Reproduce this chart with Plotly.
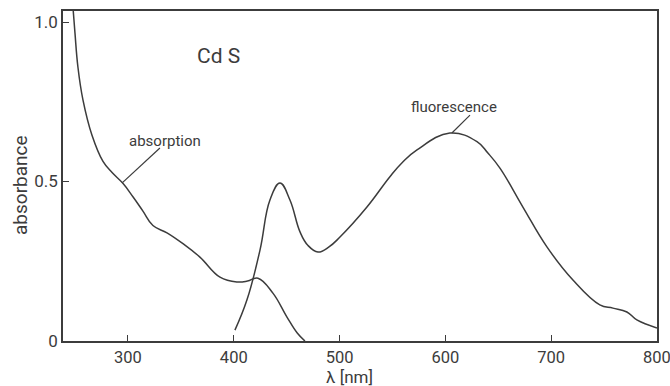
import plotly.graph_objects as go

# CdS spectra: absorption and fluorescence versus wavelength
abs_wavelength = [246, 248.3, 249.9, 252.7, 257.5, 266.0, 276.4, 285.0, 295.0, 304.7,
                  314.0, 323.6, 336.9, 352.0, 368.0, 387.0, 403.0, 413.0, 422.9,
                  437.0, 450.3, 460.0, 467.3]
abs_values = [1.12, 1.034, 0.966, 0.859, 0.755, 0.645, 0.563, 0.528, 0.495, 0.452,
              0.408, 0.362, 0.339, 0.305, 0.263, 0.200, 0.185, 0.188, 0.197,
              0.150, 0.075, 0.025, 0.0]

fl_wavelength = [401.1, 412.5, 424.8, 434.2, 443.7, 453.1, 462.6, 470.0, 479.6, 490.0,
                 500.4, 525.9, 547.6, 560.0, 573.2, 604.3, 629.9, 640.0, 651.6, 673.3,
                 696.0, 720.6, 746.0, 758.4, 771.6, 781.0, 800.0]
fl_values = [0.034, 0.129, 0.285, 0.442, 0.495, 0.442, 0.342, 0.300, 0.279, 0.295,
             0.326, 0.420, 0.515, 0.562, 0.599, 0.652, 0.625, 0.590, 0.542, 0.420,
             0.295, 0.191, 0.113, 0.103, 0.091, 0.066, 0.041]

x_ticks = [300, 400, 500, 600, 700, 800]
y_ticks = [0, 0.5, 1.0]
y_tick_text = ["0", "0.5", "1.0"]

INK = "#3c3c3c"
FONT = "Roboto, DejaVu Sans, sans-serif"

W, H = 670, 386
L, R, T, B = 63, 13, 11, 45
pw, ph = W - L - R, H - T - B

fig = go.Figure()
line_style = dict(color=INK, width=1.5, shape="spline", smoothing=1.2)
fig.add_trace(go.Scatter(x=abs_wavelength, y=abs_values, mode="lines",
                         line=line_style, name="absorption", hoverinfo="skip"))
fig.add_trace(go.Scatter(x=fl_wavelength, y=fl_values, mode="lines",
                         line=line_style, name="fluorescence", hoverinfo="skip"))

# leader lines from the labels to the curves
fig.add_shape(type="line", x0=330.2, y0=0.605, x1=294.3, y1=0.495,
              line=dict(color=INK, width=1.2))
fig.add_shape(type="line", x0=623.3, y0=0.708, x1=606.2, y1=0.652,
              line=dict(color=INK, width=1.2))

# text placed by page-pixel centre, converted to plot-area paper coordinates
labels = [
    dict(px=218, py=56, text="Cd S", size=21, angle=0),
    dict(px=165, py=141, text="absorption", size=15, angle=0),
    dict(px=454, py=107, text="fluorescence", size=15, angle=0),
    dict(px=349, py=377, text="λ [nm]", size=17, angle=0),
    dict(px=21, py=185, text="absorbance", size=19, angle=-90),
]
for a in labels:
    fig.add_annotation(x=(a["px"] - L) / pw, y=1 - (a["py"] - T) / ph,
                       xref="paper", yref="paper",
                       xanchor="center", yanchor="middle", text=a["text"],
                       textangle=a["angle"], showarrow=False,
                       font=dict(size=a["size"], color=INK, family=FONT))

fig.update_layout(
    width=W, height=H,
    margin=dict(l=L, r=R, t=T, b=B),
    paper_bgcolor="white", plot_bgcolor="white",
    showlegend=False,
    font=dict(family=FONT, color=INK, size=17),
)

fig.update_xaxes(range=[238.6, 800.05], tickvals=x_ticks, ticks="inside", ticklen=6,
                 tickwidth=1.2, tickcolor=INK, showgrid=False, zeroline=False,
                 showline=True, mirror=True, linecolor=INK, linewidth=1.5,
                 ticklabeloverflow="allow", automargin=False,
                 tickfont=dict(size=16.5, color=INK, family=FONT))
fig.update_yaxes(range=[0, 1.0345], tickvals=y_ticks, ticktext=y_tick_text,
                 ticks="inside", ticklen=6, tickwidth=1.2, tickcolor=INK,
                 showgrid=False, zeroline=False, showline=True, mirror=True,
                 linecolor=INK, linewidth=1.5, automargin=False,
                 tickfont=dict(size=17, color=INK, family=FONT))

fig.write_html("out.html")
